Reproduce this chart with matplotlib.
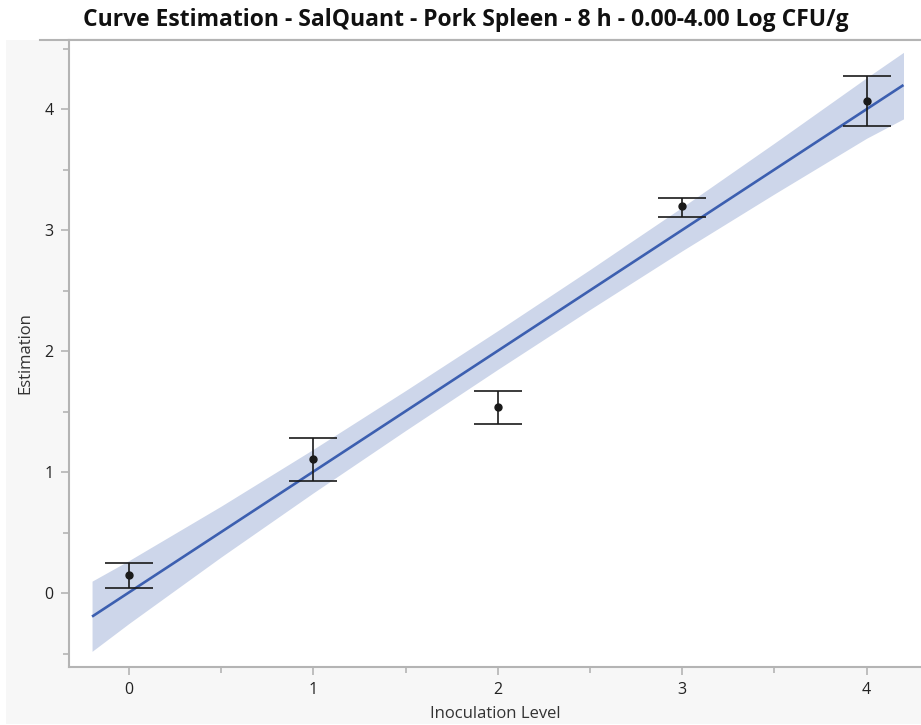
import matplotlib
matplotlib.use("Agg")
import matplotlib.pyplot as plt
from matplotlib.ticker import MultipleLocator
from matplotlib.patches import Rectangle
from matplotlib.lines import Line2D

# Data
levels = [0, 1, 2, 3, 4]
estimates = [0.15, 1.11, 1.54, 3.20, 4.07]
err_upper = [0.25, 1.285, 1.675, 3.27, 4.275]
err_lower = [0.045, 0.93, 1.395, 3.11, 3.86]

fit_x = [-0.2, 4.2]
fit_y = [-0.193, 4.20]

band_x = [-0.2, 0.0, 0.5, 1.0, 1.5, 2.0, 2.5, 3.0, 3.5, 4.0, 4.2]
band_lo = [-0.48, -0.25, 0.30, 0.83, 1.345, 1.85, 2.345, 2.83, 3.30, 3.76, 3.92]
band_hi = [0.10, 0.27, 0.72, 1.19, 1.675, 2.17, 2.675, 3.19, 3.72, 4.26, 4.47]

title = "Curve Estimation - SalQuant - Pork Spleen - 8 h - 0.00-4.00 Log CFU/g"
xlabel = "Inoculation Level"
ylabel = "Estimation"

plt.rcParams['font.family'] = ['Open Sans', 'DejaVu Sans']

W, H = 921, 725
fig = plt.figure(figsize=(W / 100, H / 100), dpi=100, facecolor='white')

# gray panel background
fig.patches.append(Rectangle((6 / W, 1 / H), (W - 6) / W, (H - 40 - 1) / H,
                             transform=fig.transFigure, facecolor='#f7f7f7',
                             edgecolor='none', zorder=-10))
fig.lines.append(Line2D([40 / W, 1], [1 - 40 / H, 1 - 40 / H], transform=fig.transFigure,
                        color='#b4b4b4', lw=1.5, zorder=-5))

ax = fig.add_axes([69 / W, 1 - 666.7 / H, (W - 69) / W, (666.7 - 40) / H])
ax.set_facecolor('white')

ax.fill_between(band_x, band_lo, band_hi, color='#cdd6ea', lw=0, zorder=1)
ax.plot(fit_x, fit_y, color='#3c5fb0', lw=1.9, zorder=2, solid_capstyle='butt')

yerr = [[e - l for e, l in zip(estimates, err_lower)],
        [u - e for e, u in zip(estimates, err_upper)]]
ax.errorbar(levels, estimates, yerr=yerr, fmt='o', color='#1a1a1a', ms=5,
            capsize=17.3, elinewidth=1.2, capthick=1.2, zorder=3)

ax.set_xlim(-0.325, 4.295)
ax.set_ylim(-0.607, 4.572)
ax.xaxis.set_major_locator(MultipleLocator(1))
ax.xaxis.set_minor_locator(MultipleLocator(0.5))
ax.yaxis.set_major_locator(MultipleLocator(1))
ax.yaxis.set_minor_locator(MultipleLocator(0.5))

for side in ['right']:
    ax.spines[side].set_visible(False)
for side in ['left', 'bottom', 'top']:
    ax.spines[side].set_color('#b4b4b4')
    ax.spines[side].set_linewidth(1.5)

ax.tick_params(which='major', length=6, width=1.2, color='#b4b4b4',
               labelsize=11.5, labelcolor='#222222', pad=5)
ax.tick_params(which='minor', length=4, width=1.2, color='#b4b4b4')

ax.set_xlabel(xlabel, fontsize=12, color='#333333', labelpad=6)
ax.set_ylabel(ylabel, fontsize=12, color='#333333', labelpad=8)

fig.text(466 / W, 1 - 20 / H, title, ha='center', va='center',
         fontsize=16.5, fontweight='bold', color='#111111')

fig.savefig('out.png', dpi=100, facecolor='white')
